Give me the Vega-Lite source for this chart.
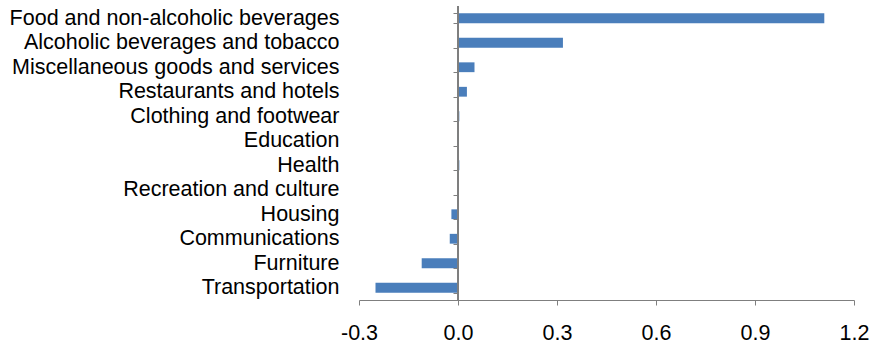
{
  "$schema": "https://vega.github.io/schema/vega-lite/v6.json",
  "autosize": {"type": "none"},
  "width": 495,
  "height": 294,
  "padding": {"left": 359, "top": 6, "right": 21, "bottom": 47},
  "background": "white",
  "config": {"view": {"stroke": null}},
  "data": {
    "values": [
      {"category": "Food and non-alcoholic beverages", "value": 1.11},
      {"category": "Alcoholic beverages and tobacco", "value": 0.318},
      {"category": "Miscellaneous goods and services", "value": 0.05},
      {"category": "Restaurants and hotels", "value": 0.027},
      {"category": "Clothing and footwear", "value": 0.004},
      {"category": "Education", "value": 0.003},
      {"category": "Health", "value": 0.004},
      {"category": "Recreation and culture", "value": 0.0},
      {"category": "Housing", "value": -0.02},
      {"category": "Communications", "value": -0.025},
      {"category": "Furniture", "value": -0.11},
      {"category": "Transportation", "value": -0.25}
    ]
  },
  "encoding": {
    "y": {
      "field": "category",
      "type": "nominal",
      "sort": null,
      "scale": {"paddingInner": 0.6, "paddingOuter": 0.3},
      "axis": {
        "title": null,
        "offset": -99,
        "domain": false,
        "tickColor": "#7F7F7F",
        "tickSize": 5,
        "tickBand": "extent",
        "labelPadding": 114,
        "labelFont": "Liberation Sans",
        "labelFontSize": 21.5,
        "labelColor": "#000000",
        "labelLimit": 0,
        "zindex": 1
      }
    }
  },
  "layer": [
    {
      "mark": {"type": "bar", "color": "#4A7EBB"},
      "encoding": {
        "x": {
          "field": "value",
          "type": "quantitative",
          "scale": {"domain": [-0.3, 1.2], "nice": false, "zero": false},
          "axis": {
            "title": null,
            "values": [-0.3, 0, 0.3, 0.6, 0.9, 1.2],
            "format": ".1f",
            "labelExpr": "replace(datum.label, '−', '-')",
            "grid": false,
            "domainColor": "#7F7F7F",
            "tickColor": "#7F7F7F",
            "tickSize": 5,
            "labelPadding": 17,
            "labelFont": "Liberation Sans",
            "labelFontSize": 21.5,
            "labelColor": "#000000",
            "labelFlush": false,
            "zindex": 1
          }
        }
      }
    },
    {
      "mark": {"type": "rule", "color": "#7F7F7F", "strokeWidth": 1.2},
      "encoding": {
        "x": {"datum": 0},
        "y": {"value": 0},
        "y2": {"value": 294}
      }
    }
  ]
}
